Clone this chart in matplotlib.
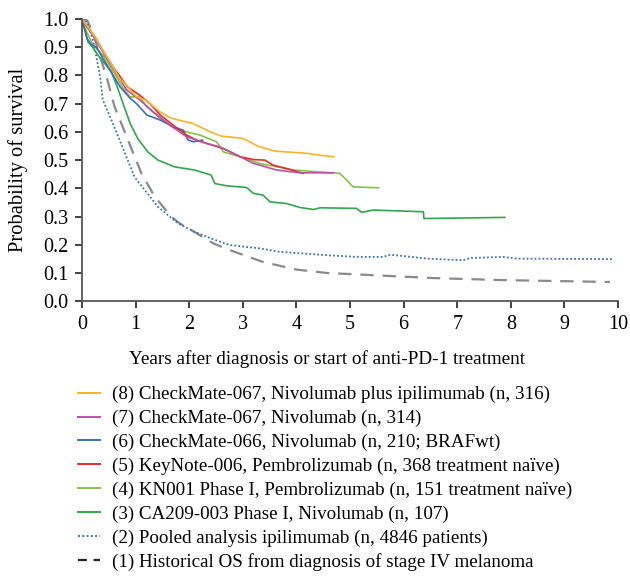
# Overall survival curves: anti-PD-1 trials vs. historical / ipilimumab
import matplotlib.pyplot as plt
from matplotlib.lines import Line2D

plt.rcParams['font.family'] = ['Liberation Serif', 'DejaVu Serif']

# (8) CheckMate-067, nivolumab + ipilimumab
t8 = [0, 0.1, 0.25, 0.4, 0.55, 0.7, 0.86, 1.0, 1.2, 1.45, 1.65, 1.8, 2.07, 2.4, 2.6, 3.0, 3.3, 3.6, 4.2, 4.45, 4.7]
s8 = [1, 0.975, 0.935, 0.885, 0.84, 0.79, 0.76, 0.727, 0.712, 0.672, 0.65, 0.642, 0.63, 0.60, 0.585, 0.577, 0.548, 0.532, 0.524, 0.517, 0.512]
# (7) CheckMate-067, nivolumab
t7 = [0, 0.1, 0.25, 0.4, 0.6, 0.83, 1.08, 1.33, 1.64, 1.95, 2.33, 2.57, 2.89, 3.19, 3.63, 4.07, 4.69]
s7 = [1, 0.97, 0.93, 0.88, 0.82, 0.75, 0.713, 0.671, 0.624, 0.583, 0.559, 0.547, 0.518, 0.489, 0.465, 0.455, 0.455]
# (6) CheckMate-066
t6 = [0, 0.1, 0.17, 0.27, 0.52, 0.71, 0.9, 1.02, 1.21, 1.46, 1.7, 1.89, 1.98, 2.08, 2.25]
s6 = [1, 0.93, 0.91, 0.90, 0.82, 0.76, 0.719, 0.70, 0.66, 0.642, 0.618, 0.606, 0.571, 0.565, 0.571]
# (5) KeyNote-006
t5 = [0, 0.1, 0.25, 0.4, 0.6, 0.85, 1.08, 1.27, 1.46, 1.7, 1.95, 2.14, 2.33, 2.64, 2.95, 3.2, 3.41, 3.57, 3.82, 4.13]
s5 = [1, 0.975, 0.935, 0.885, 0.825, 0.76, 0.73, 0.70, 0.66, 0.624, 0.589, 0.571, 0.559, 0.541, 0.512, 0.502, 0.50, 0.482, 0.47, 0.453]
# (4) KN001 phase I
t4 = [0, 0.1, 0.2, 0.4, 0.6, 0.75, 0.9, 1.08, 1.21, 1.46, 1.7, 1.95, 2.2, 2.51, 2.64, 2.95, 3.32, 3.94, 4.81, 4.94, 5.06, 5.53]
s4 = [1, 0.95, 0.91, 0.87, 0.81, 0.76, 0.724, 0.724, 0.689, 0.648, 0.618, 0.60, 0.589, 0.565, 0.529, 0.512, 0.488, 0.465, 0.453, 0.429, 0.405, 0.402]
# (3) CA209-003 phase I
t3 = [0, 0.11, 0.2, 0.3, 0.55, 0.67, 0.8, 0.9, 1.04, 1.23, 1.42, 1.73, 2.1, 2.41, 2.48, 2.7, 3.07, 3.2, 3.38, 3.51,
      3.82, 4.07, 4.32, 4.44, 5.12, 5.22, 5.43, 6.37, 6.38, 7.89]
s3 = [1, 0.92, 0.90, 0.872, 0.813, 0.754, 0.683, 0.63, 0.577, 0.529, 0.5, 0.476, 0.465, 0.447, 0.417, 0.409, 0.403, 0.382, 0.376, 0.352,
      0.346, 0.332, 0.325, 0.331, 0.329, 0.315, 0.323, 0.317, 0.293, 0.297]
# (2) pooled ipilimumab
t2 = [0, 0.1, 0.2, 0.27, 0.34, 0.39, 0.55, 0.73, 0.98, 1.17, 1.42, 1.79, 2.1, 2.41, 2.76, 3.32, 3.69, 4.57, 5.12,
      5.62, 5.75, 6.43, 7.11, 7.24, 7.86, 8.11, 9.91]
s2 = [1, 0.99, 0.93, 0.866, 0.795, 0.713, 0.642, 0.559, 0.441, 0.394, 0.334, 0.276, 0.246, 0.222, 0.199, 0.187, 0.175, 0.163, 0.157,
      0.157, 0.165, 0.151, 0.145, 0.153, 0.157, 0.151, 0.149]
# (1) historical OS
t1 = [0, 0.1, 0.21, 0.34, 0.46, 0.61, 0.86, 1.11, 1.36, 1.67, 1.83, 2.04, 2.45, 2.76, 3.07, 3.38, 4.0, 4.57, 5.12, 6.55, 7.8, 9.85]
s1 = [1, 0.995, 0.949, 0.866, 0.795, 0.689, 0.571, 0.453, 0.37, 0.299, 0.275, 0.252, 0.205, 0.181, 0.16, 0.139, 0.112, 0.10, 0.095,
      0.082, 0.075, 0.068]

labels = [
    '(8) CheckMate-067, Nivolumab plus ipilimumab (n, 316)',
    '(7) CheckMate-067, Nivolumab (n, 314)',
    '(6) CheckMate-066, Nivolumab (n, 210; BRAFwt)',
    '(5) KeyNote-006, Pembrolizumab (n, 368 treatment naïve)',
    '(4) KN001 Phase I, Pembrolizumab (n, 151 treatment naïve)',
    '(3) CA209-003 Phase I, Nivolumab (n, 107)',
    '(2) Pooled analysis ipilimumab (n, 4846 patients)',
    '(1) Historical OS from diagnosis of stage IV melanoma',
]
colors = ['#f6b327', '#c04fa8', '#3a6cbf', '#ea2a2f', '#84c441', '#2ea84a', '#3c72b4', '#8a8a8a']

fig = plt.figure(figsize=(6.3, 5.77), dpi=100)
ax = fig.add_axes([0.130, 0.478, 0.851, 0.489])

ax.plot(t1, s1, color=colors[7], lw=1.6, dashes=(6, 4))
ax.plot(t2, s2, color=colors[6], lw=1.3, dashes=(1, 1.2))
ax.plot(t3, s3, color=colors[5], lw=1.2)
ax.plot(t4, s4, color=colors[4], lw=1.2)
ax.plot(t6, s6, color=colors[2], lw=1.2)
ax.plot(t5, s5, color=colors[3], lw=1.2)
ax.plot(t7, s7, color=colors[1], lw=1.2)
ax.plot(t8, s8, color=colors[0], lw=1.2)

ax.set_xlim(0, 10)
ax.set_ylim(0, 1.0)
ax.set_xticks(range(0, 11))
ax.set_yticks([i / 10 for i in range(11)])
ax.set_yticklabels([f'{i / 10:.1f}' for i in range(11)])
for side in ['top', 'right']:
    ax.spines[side].set_visible(False)
for side in ['left', 'bottom']:
    ax.spines[side].set_color('#555555')
    ax.spines[side].set_linewidth(1.3)
ax.tick_params(direction='out', length=5, width=1.3, color='#333333', labelsize=14.5, pad=5)
ax.set_xlabel('Years after diagnosis or start of anti-PD-1 treatment', fontsize=13.8)
ax.xaxis.set_label_coords(0.458, -0.175)
ax.set_ylabel('Probability of survival', fontsize=14.8)
ax.yaxis.set_label_coords(-0.10, 0.5)

handles = [Line2D([], [], color=c, lw=1.4) for c in colors[:6]]
handles.append(Line2D([], [], color=colors[6], lw=1.4, dashes=(1, 1.2)))
handles.append(Line2D([], [], color='#222222', lw=1.6, dashes=(4, 3)))
fig.legend(handles, labels, loc='upper left', bbox_to_anchor=(0.124, 0.331), frameon=False,
           fontsize=13.7, handlelength=1.15, handletextpad=0.62, labelspacing=0.34, borderpad=0,
           borderaxespad=0)

plt.savefig('out.png', dpi=100)
plt.close()
